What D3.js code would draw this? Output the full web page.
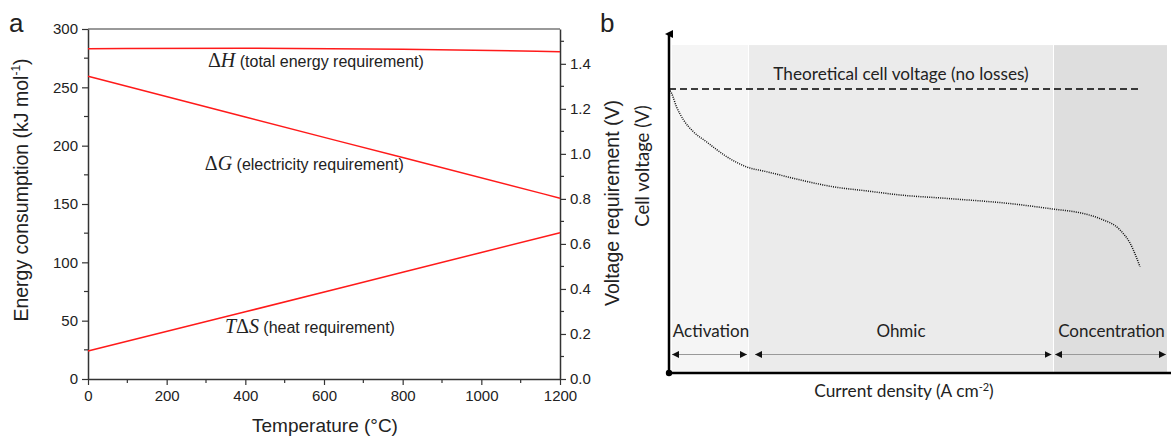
<!DOCTYPE html>
<html>
<head>
<meta charset="utf-8">
<script src="https://cdn.jsdelivr.net/npm/d3@7"></script>
<style>
  body { margin: 0; background: #fff; }
  svg { display: block; }
  .sa { font-family: "Liberation Sans", Arial, sans-serif; fill: #222; }
  .sb { font-family: Lato, "Open Sans", sans-serif; fill: #222; }
  .math { font-family: "Liberation Serif", "DejaVu Serif", serif; }
</style>
</head>
<body>
<svg id="chart" width="1171" height="437"></svg>
<script>
// ---- panel a data ----
var temps = [0, 400, 800, 1200];
var dH = [283, 283.6, 282.6, 280.6];      // total energy requirement
var dG = [259.5, 224.5, 189.8, 155];      // electricity requirement
var TdS = [24, 57.6, 91.5, 125.4];        // heat requirement
var energyTicks = [0, 50, 100, 150, 200, 250, 300];
var voltTicks = [0, 0.2, 0.4, 0.6, 0.8, 1.0, 1.2, 1.4];
var tempTicks = [0, 200, 400, 600, 800, 1000, 1200];

// ---- panel b data (arbitrary units 0-100) ----
var curveX = [0, 0.5, 1.5, 2.9, 4.9, 7.5, 11.5, 15.5, 19.5, 26.2, 32.8, 39.5, 46.2, 55.5, 68.8, 76.8, 82.2, 86.2, 90.2, 92.2, 94.2];
var curveY = [82.8, 81.6, 77.6, 73.8, 70.3, 67.4, 63.1, 60.1, 58.7, 56.3, 54.3, 53.1, 51.9, 50.9, 49.3, 47.8, 46.7, 45.0, 41.7, 37.9, 31.0];
var theoretical = 82.8;
var regionNames = ["Activation", "Ohmic", "Concentration"];
var regionStart = [0.6, 16, 77];
var regionEnd = [15.8, 76.8, 99.6];
var regionFill = ["#f5f5f5", "#ebebeb", "#dedede"];

var svg = d3.select("#chart");

// ================= panel a =================
var x = d3.scaleLinear().domain([0, 1200]).range([88, 560]);
var y = d3.scaleLinear().domain([0, 300]).range([379, 29]);
var yv = d3.scaleLinear().domain([0, 300 / (2 * 96.485)]).range([379, 29]);

var ga = svg.append("g").attr("class", "sa");

// frame top
ga.append("line").attr("x1", x(0)).attr("x2", x(1200)).attr("y1", y(300)).attr("y2", y(300))
  .attr("stroke", "#777").attr("stroke-width", 1.5);

// minor ticks
ga.append("g").selectAll("line").data(d3.range(25, 300, 50)).enter().append("line")
  .attr("x1", x(0)).attr("x2", x(0) - 4).attr("y1", function(d) { return y(d); }).attr("y2", function(d) { return y(d); })
  .attr("stroke", "#333").attr("stroke-width", 1.2);
ga.append("g").selectAll("line").data(d3.range(100, 1200, 200)).enter().append("line")
  .attr("y1", y(0)).attr("y2", y(0) + 4).attr("x1", function(d) { return x(d); }).attr("x2", function(d) { return x(d); })
  .attr("stroke", "#333").attr("stroke-width", 1.2);
ga.append("g").selectAll("line").data([0.1, 0.3, 0.5, 0.7, 0.9, 1.1, 1.3, 1.5]).enter().append("line")
  .attr("x1", x(1200)).attr("x2", x(1200) + 4).attr("y1", function(d) { return yv(d); }).attr("y2", function(d) { return yv(d); })
  .attr("stroke", "#333").attr("stroke-width", 1.2);

var axL = ga.append("g").attr("transform", "translate(" + x(0) + ",0)")
  .call(d3.axisLeft(y).tickValues(energyTicks).tickSize(6).tickSizeOuter(0).tickPadding(4));
var axB = ga.append("g").attr("transform", "translate(0," + y(0) + ")")
  .call(d3.axisBottom(x).tickValues(tempTicks).tickFormat(d3.format("d")).tickSize(6).tickSizeOuter(0).tickPadding(5));
var axR = ga.append("g").attr("transform", "translate(" + x(1200) + ",0)")
  .call(d3.axisRight(yv).tickValues(voltTicks).tickFormat(d3.format(".1f")).tickSize(6).tickSizeOuter(0).tickPadding(4));
[axL, axB, axR].forEach(function(a) {
  a.select(".domain").attr("stroke", "#333").attr("stroke-width", 1.5);
  a.selectAll(".tick line").attr("stroke", "#333").attr("stroke-width", 1.2);
  a.selectAll(".tick text").attr("font-size", 15).attr("fill", "#222")
    .attr("font-family", "Liberation Sans, Arial, sans-serif");
});

// lines
var line = d3.line().x(function(d) { return x(d[0]); }).y(function(d) { return y(d[1]); }).curve(d3.curveMonotoneX);
[dH, dG, TdS].forEach(function(s) {
  ga.append("path").datum(temps.map(function(t, i) { return [t, s[i]]; }))
    .attr("d", line).attr("fill", "none").attr("stroke", "#ff1a1a").attr("stroke-width", 1.5);
});

// line labels
function lineLabel(tx, ty, sym, rest) {
  var t = ga.append("text").attr("x", x(tx)).attr("y", y(ty)).attr("font-size", 16);
  sym.forEach(function(p) {
    t.append("tspan").attr("class", "math").attr("font-size", 20)
      .attr("font-style", p[1] ? "italic" : "normal").text(p[0]);
  });
  t.append("tspan").text(" " + rest);
}
lineLabel(305, 267.5, [["Δ", false], ["H", true]], "(total energy requirement)");
lineLabel(297, 179, [["Δ", false], ["G", true]], "(electricity requirement)");
lineLabel(348, 39.4, [["T", true], ["Δ", false], ["S", true]], "(heat requirement)");

// axis titles
var yl = ga.append("text").attr("transform", "translate(28,190) rotate(-90)").attr("text-anchor", "middle")
  .attr("font-size", 19.5).text("Energy consumption (kJ mol");
yl.append("tspan").attr("font-size", 12).attr("dy", -8).text("-1");
yl.append("tspan").attr("dy", 8).text(")");
ga.append("text").attr("x", 325).attr("y", 432).attr("text-anchor", "middle").attr("font-size", 19).text("Temperature (°C)");
ga.append("text").attr("transform", "translate(619,203) rotate(-90)").attr("text-anchor", "middle")
  .attr("font-size", 19.5).text("Voltage requirement (V)");
ga.append("text").attr("x", 9).attr("y", 32).attr("font-size", 26).text("a");

// ================= panel b =================
var bx = d3.scaleLinear().domain([0, 100]).range([669, 1169]);
var by = d3.scaleLinear().domain([0, 100]).range([373, 30]);
var gb = svg.append("g").attr("class", "sb");

gb.selectAll("rect.region").data(regionNames).enter().append("rect")
  .attr("x", function(d, i) { return bx(regionStart[i]); })
  .attr("width", function(d, i) { return bx(regionEnd[i]) - bx(regionStart[i]); })
  .attr("y", by(95.6)).attr("height", by(0) - by(95.6))
  .attr("fill", function(d, i) { return regionFill[i]; });

// region arrows
var defs = svg.append("defs");
defs.append("marker").attr("id", "ah").attr("viewBox", "0 0 10 10").attr("refX", 10).attr("refY", 5)
  .attr("markerWidth", 7).attr("markerHeight", 7).attr("markerUnits", "userSpaceOnUse").attr("orient", "auto-start-reverse")
  .append("path").attr("d", "M0,0 L10,5 L0,10 z").attr("fill", "#111");
var arrowStart = [0.6, 17.2, 77.2];
var arrowEnd = [15.6, 76.5, 99.4];
gb.selectAll("line.rarrow").data(regionNames).enter().append("line")
  .attr("x1", function(d, i) { return bx(arrowStart[i]); })
  .attr("x2", function(d, i) { return bx(arrowEnd[i]); })
  .attr("y1", by(5.4)).attr("y2", by(5.4))
  .attr("stroke", "#999").attr("stroke-width", 1.2)
  .attr("marker-start", "url(#ah)").attr("marker-end", "url(#ah)");
gb.selectAll("text.rlabel").data(regionNames).enter().append("text")
  .attr("x", function(d, i) { return (bx(regionStart[i]) + bx(regionEnd[i])) / 2 + (i === 1 ? 0 : 1); })
  .attr("y", by(10.6)).attr("text-anchor", "middle").attr("font-size", 17).text(function(d) { return d; });

// theoretical line
gb.append("line").attr("x1", bx(0)).attr("x2", bx(94.2)).attr("y1", by(theoretical)).attr("y2", by(theoretical))
  .attr("stroke", "#000").attr("stroke-width", 1.3).attr("stroke-dasharray", "7,4");
gb.append("text").attr("x", 901).attr("y", by(theoretical) - 9).attr("text-anchor", "middle")
  .attr("font-size", 17.2).text("Theoretical cell voltage (no losses)");

// polarization curve
var cline = d3.line().x(function(d) { return bx(d[0]); }).y(function(d) { return by(d[1]); }).curve(d3.curveMonotoneX);
gb.append("path").datum(curveX.map(function(v, i) { return [v, curveY[i]]; }))
  .attr("d", cline).attr("fill", "none").attr("stroke", "#111").attr("stroke-width", 1.5)
  .attr("stroke-dasharray", "1,1.2");

// axes
defs.append("marker").attr("id", "ya").attr("viewBox", "0 0 10 10").attr("refX", 5).attr("refY", 5)
  .attr("markerWidth", 8).attr("markerHeight", 9).attr("markerUnits", "userSpaceOnUse").attr("orient", "auto")
  .append("path").attr("d", "M0,10 L5,0 L10,10 z").attr("fill", "#000");
gb.append("line").attr("x1", bx(0)).attr("x2", bx(0)).attr("y1", by(0)).attr("y2", by(100) + 4)
  .attr("stroke", "#000").attr("stroke-width", 2.5).attr("marker-end", "url(#ya)");
gb.append("line").attr("x1", bx(0)).attr("x2", 1171).attr("y1", by(0)).attr("y2", by(0))
  .attr("stroke", "#000").attr("stroke-width", 2.5);
gb.append("circle").attr("cx", bx(0)).attr("cy", by(0)).attr("r", 3.2).attr("fill", "#000");

var xt = gb.append("text").attr("x", 904).attr("y", 397).attr("text-anchor", "middle").attr("font-size", 17.3)
  .text("Current density (A cm");
xt.append("tspan").attr("font-size", 11).attr("dy", -6).text("-2");
xt.append("tspan").attr("dy", 6).text(")");
gb.append("text").attr("transform", "translate(649,166) rotate(-90)").attr("text-anchor", "middle")
  .attr("font-size", 18.5).text("Cell voltage (V)");
gb.append("text").attr("x", 600).attr("y", 32).attr("font-size", 26).attr("font-family", "Liberation Sans, Arial, sans-serif").text("b");
</script>
</body>
</html>
